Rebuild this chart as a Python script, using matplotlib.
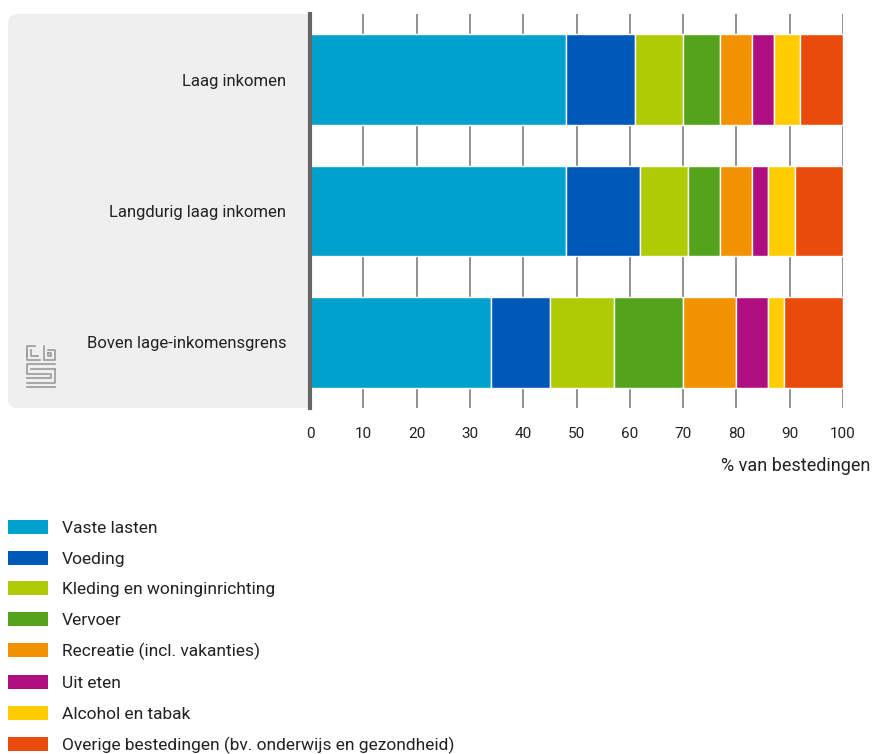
import matplotlib.pyplot as plt
from matplotlib.patches import FancyBboxPatch, Patch
from matplotlib.lines import Line2D

plt.rcParams["font.family"] = ["Roboto", "DejaVu Sans"]

groups = ["Laag inkomen", "Langdurig laag inkomen", "Boven lage-inkomensgrens"]
categories = ["Vaste lasten", "Voeding", "Kleding en woninginrichting", "Vervoer",
              "Recreatie (incl. vakanties)", "Uit eten", "Alcohol en tabak",
              "Overige bestedingen (bv. onderwijs en gezondheid)"]
colors = ["#00a1cd", "#0058b8", "#afcb05", "#53a31d", "#f39200", "#af0e80", "#ffcc00", "#e94c0a"]

laag = [48, 13, 9, 7, 6, 4, 5, 8]
langdurig = [48, 14, 9, 6, 6, 3, 5, 9]
boven = [34, 11, 12, 13, 10, 6, 3, 11]
values = [laag, langdurig, boven]

W, H = 873, 754
fig = plt.figure(figsize=(W / 100, H / 100), dpi=100)

def fx(px):
    return px / W

def fy(py):
    return 1 - py / H

# grey panel behind the category labels
panel = FancyBboxPatch((fx(8), fy(408)), fx(320) - fx(8), fy(14) - fy(408),
                       boxstyle="round,pad=0,rounding_size=0.012",
                       transform=fig.transFigure, facecolor="#efefef", edgecolor="none", zorder=0)
fig.patches.append(panel)

ax = fig.add_axes([fx(310), fy(408), fx(843) - fx(310), fy(14) - fy(408)])
ax.set_zorder(1)

ypos = list(range(len(groups)))
for gi, vals in enumerate(values):
    left = 0
    for ci, v in enumerate(vals):
        ax.barh(gi, v, left=left, height=0.69, color=colors[ci], edgecolor="white",
                linewidth=1, zorder=3)
        left += v

ax.set_xlim(0, 100)
ax.set_ylim(2.5, -0.5)
ax.set_xticks(range(0, 101, 10))
ax.set_yticks(ypos)
ax.set_yticklabels(groups, fontsize=12, color="#222222")
ax.tick_params(axis="y", length=0, pad=17)
ax.tick_params(axis="x", length=0, pad=14, labelsize=11, labelcolor="#222222")
ax.grid(axis="x", color="#888888", linewidth=1.3, zorder=1)
for s in ["top", "right", "bottom"]:
    ax.spines[s].set_visible(False)
ax.spines["left"].set_color("#666666")
ax.spines["left"].set_linewidth(3)
ax.spines["left"].set_zorder(4)

fig.text(fx(870), fy(466), "% van bestedingen", ha="right", va="center", fontsize=13, color="#222222")

# cbs logo (rough line drawing)
logo = [
    [(27, 356), (27, 346), (35, 346)],
    [(27, 351), (27, 360), (40, 360)],
    [(31, 350), (31, 356), (38, 356)],
    [(44, 346), (44, 360), (55, 360), (55, 350), (48, 350)],
    [(48, 353), (51, 353), (51, 356), (48, 356), (48, 353)],
    [(55, 364), (27, 364), (27, 374), (51, 374), (51, 378), (27, 378)],
    [(55, 369), (31, 369)],
    [(27, 383), (55, 383), (55, 369)],
    [(27, 387), (55, 387)],
]
for pts in logo:
    fig.add_artist(Line2D([fx(p[0]) for p in pts], [fy(p[1]) for p in pts],
                          transform=fig.transFigure, color="#9a9a9a", linewidth=1.2, zorder=2))

handles = [Patch(facecolor=c, edgecolor="none") for c in colors]
fig.legend(handles, categories, loc="upper left", bbox_to_anchor=(fx(8), fy(520)),
           frameon=False, fontsize=12.5, handlelength=2.3, handleheight=0.86,
           handletextpad=0.8, labelspacing=0.85, borderpad=0, borderaxespad=0,
           labelcolor="#222222")

fig.savefig("out.png", dpi=100)
